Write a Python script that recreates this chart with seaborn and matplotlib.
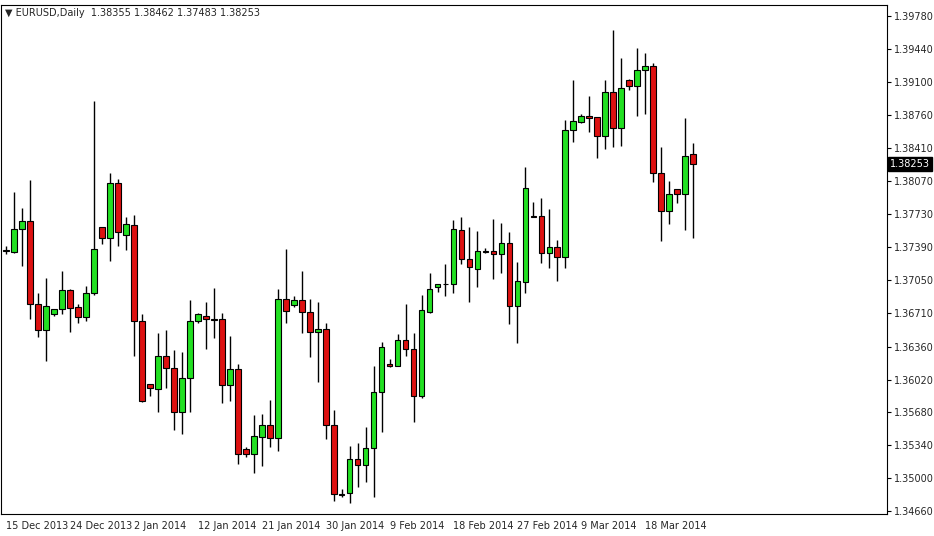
import matplotlib
matplotlib.use("Agg")
import matplotlib.pyplot as plt
import seaborn as sns
import numpy as np

opens = [1.37349,1.37339,1.37577,1.37660,1.36801,1.36532,1.36698,1.36750,1.36946,1.36770,
1.36667,1.36915,1.37598,1.37484,1.38053,1.37515,1.37618,1.36625,1.35974,1.35922,
1.36263,1.36139,1.35684,1.36036,1.36625,1.36677,1.36646,1.36646,1.35963,1.36129,
1.35302,1.35250,1.35426,1.35550,1.35415,1.36853,1.36791,1.36843,1.36719,1.36512,
1.36543,1.35550,1.34836,1.34846,1.35198,1.35136,1.35312,1.35891,1.36181,1.36160,
1.36429,1.36336,1.35850,1.36719,1.36977,1.37008,1.37008,1.37567,1.37267,1.37163,
1.37349,1.37349,1.37318,1.37432,1.36781,1.37029,1.37711,1.37711,1.37329,1.37391,
1.37287,1.38601,1.38684,1.38746,1.38735,1.38539,1.38994,1.38622,1.39118,1.39056,
1.39222,1.39263,1.38156,1.37763,1.37991,1.37939,1.38355]
highs = [1.37401,1.37960,1.37794,1.38084,1.36915,1.37070,1.36750,1.37143,1.36956,1.36801,
1.36987,1.38901,1.37598,1.38156,1.38094,1.37701,1.37722,1.36698,1.35974,1.36501,
1.36532,1.36325,1.36305,1.36843,1.36708,1.36822,1.36967,1.36708,1.36470,1.36181,
1.35322,1.35653,1.35664,1.35808,1.36956,1.37370,1.36884,1.37143,1.36853,1.36822,
1.36605,1.35705,1.34888,1.35333,1.35364,1.35529,1.36160,1.36408,1.36232,1.36491,
1.36801,1.36501,1.36894,1.37122,1.37008,1.37215,1.37670,1.37701,1.37598,1.37556,
1.37380,1.37680,1.37639,1.37546,1.37236,1.38218,1.37856,1.37898,1.37784,1.37463,
1.38704,1.39118,1.38766,1.38953,1.38735,1.39118,1.39635,1.39346,1.39128,1.39449,
1.39397,1.39294,1.38425,1.38073,1.37991,1.38725,1.38462]
lows = [1.37318,1.37329,1.37194,1.36646,1.36460,1.36212,1.36677,1.36698,1.36512,1.36605,
1.36625,1.36894,1.37422,1.37246,1.37401,1.37360,1.36263,1.35790,1.35850,1.35684,
1.35932,1.35498,1.35457,1.35684,1.36605,1.36336,1.36450,1.35777,1.35798,1.35146,
1.35219,1.35053,1.35126,1.35322,1.35281,1.36605,1.36770,1.36501,1.36253,1.35994,
1.35405,1.34764,1.34805,1.34743,1.34908,1.34960,1.34805,1.35477,1.36150,1.36160,
1.36263,1.35581,1.35829,1.36708,1.36925,1.36884,1.36915,1.37215,1.36822,1.36977,
1.37329,1.37060,1.37122,1.36594,1.36398,1.36915,1.37701,1.37225,1.37174,1.37039,
1.37174,1.38477,1.38673,1.38580,1.38311,1.38404,1.38425,1.38435,1.39015,1.38746,
1.38766,1.38063,1.37453,1.37629,1.37846,1.37567,1.37483]
closes = [1.37355,1.37577,1.37660,1.36801,1.36532,1.36781,1.36750,1.36946,1.36760,1.36667,
1.36915,1.37370,1.37484,1.38053,1.37546,1.37629,1.36625,1.35798,1.35932,1.36263,
1.36139,1.35684,1.36036,1.36625,1.36698,1.36646,1.36640,1.35963,1.36129,1.35250,
1.35250,1.35436,1.35550,1.35415,1.36853,1.36729,1.36843,1.36719,1.36512,1.36543,
1.35550,1.34836,1.34830,1.35198,1.35136,1.35312,1.35891,1.36356,1.36160,1.36429,
1.36336,1.35850,1.36739,1.36956,1.37008,1.37003,1.37577,1.37267,1.37184,1.37349,
1.37344,1.37318,1.37432,1.36781,1.37039,1.38001,1.37706,1.37329,1.37391,1.37287,
1.38601,1.38694,1.38746,1.38725,1.38539,1.38994,1.38622,1.39035,1.39056,1.39222,
1.39263,1.38156,1.37763,1.37939,1.37939,1.38335,1.38253]

tick_labels = ["15 Dec 2013","24 Dec 2013","2 Jan 2014","12 Jan 2014","21 Jan 2014",
               "30 Jan 2014","9 Feb 2014","18 Feb 2014","27 Feb 2014","9 Mar 2014","18 Mar 2014"]
price_ticks = [1.39780,1.39440,1.39100,1.38760,1.38410,1.38070,1.37730,1.37390,1.37050,
               1.36710,1.36360,1.36020,1.35680,1.35340,1.35000,1.34660]

sns.set_style("white")
plt.rcParams['font.family'] = ['DejaVu Sans']

fig = plt.figure(figsize=(9.34, 5.36), dpi=100)
ax = fig.add_axes([1/934, 22/536, 886/934, 509/536])

n = len(opens)
x = np.arange(n)
o = np.array(opens); h = np.array(highs); l = np.array(lows); c = np.array(closes)
up = c >= o
ax.vlines(x, l, h, color="black", lw=1, zorder=1)
bottoms = np.minimum(o, c)
heights = np.maximum(np.abs(c - o), 0.00004)
cols = np.where(up, "#22e022", "#dd1111")
ax.bar(x, heights, bottom=bottoms, width=0.72, color=cols, edgecolor="black", linewidth=0.8, zorder=2)

ax.set_xlim(-0.625, 110.25)
ax.set_ylim(1.34629, 1.39894)
ax.yaxis.tick_right()
ax.set_yticks(price_ticks)
ax.set_yticklabels([f"{v:.5f}" for v in price_ticks], fontsize=7)
ticks = list(range(0, 88, 8))
ax.set_xticks(ticks)
ax.set_xticklabels(tick_labels, fontsize=7, ha="left")
ax.tick_params(axis="both", length=3, direction="out", color="black", pad=2)
for lab in ax.get_xticklabels():
    lab.set_x(lab.get_position()[0])
for s in ax.spines.values():
    s.set_color("black"); s.set_linewidth(0.8)

ax.text(0.004, 0.995, "\u25BC EURUSD,Daily  1.38355 1.38462 1.37483 1.38253",
        transform=ax.transAxes, fontsize=7, va="top", ha="left")
ax.text(1.003, closes[-1], f"{closes[-1]:.5f}", transform=ax.get_yaxis_transform(),
        fontsize=7, va="center", ha="left", color="white",
        bbox=dict(facecolor="black", edgecolor="black", pad=1.5))

fig.savefig("out.png", dpi=100, facecolor="white")
